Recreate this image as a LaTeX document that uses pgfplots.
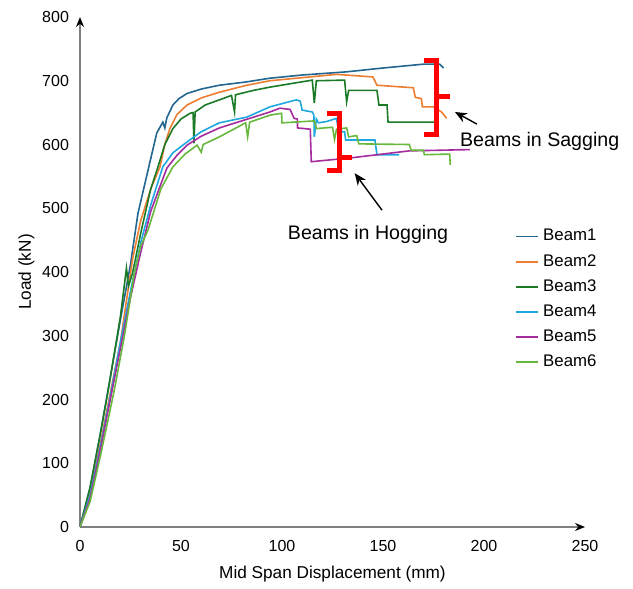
\documentclass[border=0pt]{standalone}
\usepackage{fontspec}
\setmainfont{Liberation Sans}
\usepackage{pgfplots}
\pgfplotsset{compat=1.18}
\usetikzlibrary{arrows.meta}

\definecolor{bone}{HTML}{23668F}
\definecolor{btwo}{HTML}{ED7D31}
\definecolor{bthree}{HTML}{1B7A26}
\definecolor{bfour}{HTML}{1FA8E0}
\definecolor{bfive}{HTML}{A52C9F}
\definecolor{bsix}{HTML}{68B83E}

\begin{document}
\begin{tikzpicture}
\begin{axis}[
  scale only axis, width=252.5pt, height=255pt,
  xmin=0, xmax=250, ymin=0, ymax=800,
  xtick={0,50,...,250}, ytick={0,100,...,800},
  axis lines=left,
  axis line style={draw=gray, line width=0.6pt, -{Stealth[color=black,length=5pt,width=4pt]}},
  major tick length=0pt,
  /pgf/number format/assume math mode=true,
  tick label style={font=\fontsize{8}{9}\selectfont},
  xticklabel style={yshift=-3pt},
  yticklabel style={xshift=-2pt},
  label style={font=\fontsize{8.6}{10}\selectfont},
  xlabel={Mid Span Displacement (mm)},
  ylabel={Load (kN)},
  xlabel style={yshift=-0.5pt},
  ylabel style={yshift=-3pt},
  clip=false,
  legend cell align=left,
  legend style={at={(0.85,0.6)}, anchor=north west, draw=none, fill=none,
    font=\fontsize{8.4}{10}\selectfont, row sep=1.2pt},
  legend image code/.code={\draw[#1] (0pt,0pt) -- (11pt,0pt);},
  every axis plot/.append style={line width=0.8pt},
]
% Beam1
\addplot[bone] coordinates {(0,0)(5,62)(10,145)(15,235)(20,325)(25,412)(28.7,492)(33.7,560)(38,618)(41,635)(42,626)(43,642)(46,662)(49,672)(53,680)(60,687)(69,693)(82,698)(94,704)(110,709)(132,714)(150,720)(170,726)(178,726)(180,720)};
\addlegendentry{Beam1}
% Beam2
\addplot[btwo] coordinates {(0,0)(5,55)(10,130)(20,290)(26,420)(30,480)(35,530)(39.6,565)(42,600)(44.5,625)(48,647)(53,662)(60,673)(69,682)(82.6,693)(94,700)(127,710)(145,706)(147,693)(165,689)(166,674)(169,672)(169.5,659)(175,659)(179,651)(181.5,641)};
\addlegendentry{Beam2}
% Beam3
\addplot[bthree] coordinates {(0,0)(5,62)(10,145)(14,215)(20,330)(23,406)(24,378)(26,398)(30,460)(35,530)(38.6,565)(42,600)(46,625)(50,640)(54.5,649)(56,650)(56.4,602)(57,651)(62,662)(69,670)(75,677)(76.5,651)(77,678)(86,685)(94,690)(115,701)(116,665)(117,700)(131,701)(132,667)(133,685)(147,685)(148,662)(152,662)(152.5,635)(176,635)(176.5,612)};
\addlegendentry{Beam3}
% Beam4
\addplot[bfour] coordinates {(0,0)(5,50)(10,125)(15,205)(20,290)(25,370)(30,445)(35,505)(41,565)(46,587)(53,604)(60,620)(69,634)(82.6,643)(94,659)(107,670)(109,668)(110,654)(115,651)(115.8,646)(116,612)(117,640)(118,634)(122,636)(127,641)(128,620)(131,620)(131.5,607)(146,607)(147,584)(158,584)};
\addlegendentry{Beam4}
% Beam5
\addplot[bfive] coordinates {(0,0)(5,45)(10,120)(15,200)(20,280)(25,360)(30,430)(35,495)(43,563)(48,583)(53,599)(60,613)(69,626)(94,651)(99,657)(104,655)(106,641)(107.6,640)(107.7,626)(114,624)(114.5,573)(134,579)(163,590)(193,592)};
\addlegendentry{Beam5}
% Beam6
\addplot[bsix] coordinates {(0,0)(5,40)(10,110)(17,215)(22,300)(27,400)(30,440)(33.7,466)(40,530)(46,565)(52,585)(58,599)(60,588)(61,600)(69,612)(82,634)(83,612)(84,635)(94,646)(99.8,649)(100,634)(116,637)(117,625)(125,627)(126,608)(127,624)(132,626)(133,612)(137,614)(138,601)(163,600)(164,591)(170,591)(170.5,584)(183,585)(183.3,568)};
\addlegendentry{Beam6}

% brackets
\draw[red, line width=2.5pt] (axis cs:170.3,732) -- (axis cs:176.7,732) -- (axis cs:176.7,616) -- (axis cs:170.3,616);
\draw[red, line width=2.5pt] (axis cs:176.7,676) -- (axis cs:183.2,676);
\draw[red, line width=2.5pt] (axis cs:122.5,649) -- (axis cs:128.5,649) -- (axis cs:128.5,560) -- (axis cs:122.5,560);
\draw[red, line width=2.5pt] (axis cs:128.5,579) -- (axis cs:134.7,579);
% arrows and notes
\draw[black, line width=0.7pt, -{Stealth[length=6pt,width=5pt]}] (axis cs:196.5,632) -- (axis cs:185.6,651);
\node[anchor=west, font=\fontsize{9.8}{11}\selectfont, inner sep=0pt] at (axis cs:188,605.5) {Beams in Sagging};
\draw[black, line width=0.7pt, -{Stealth[length=6pt,width=5pt]}] (axis cs:149.5,497) -- (axis cs:136,555);
\node[font=\fontsize{9.8}{11}\selectfont, inner sep=0pt] at (axis cs:142.6,459.6) {Beams in Hogging};
\coordinate (O) at (axis cs:0,0);
\end{axis}
\path (O) ++(-40pt,-28.5pt) rectangle ++(316.5pt,292pt);
\end{tikzpicture}
\end{document}
